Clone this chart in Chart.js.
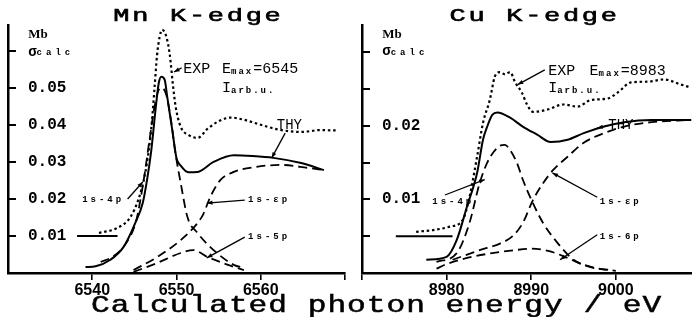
<!DOCTYPE html>
<html>
<head>
<meta charset="utf-8">
<script src="https://cdn.jsdelivr.net/npm/chart.js@4.4.1/dist/chart.umd.min.js"></script>
<style>
body{margin:0;background:#fff;width:692px;height:317px;overflow:hidden;position:relative}
.box{position:absolute;top:0;height:300px}
#xt{position:absolute;left:91px;top:294px;font:24px "Liberation Mono",monospace;letter-spacing:0.75px;white-space:nowrap;color:#000;line-height:24px;transform:scaleX(1.3);transform-origin:0 0;-webkit-text-stroke:0.5px #000}
</style>
</head>
<body>
<div class="box" style="left:0;width:350px"><canvas id="mn"></canvas></div>
<div class="box" style="left:340px;width:352px"><canvas id="cu"></canvas></div>
<div id="xt">Calculated photon energy / eV</div>
<script>
// ---- Mn K-edge (left) ----
var mnExpE = [6540.8,6543.0,6544.5,6545.5,6546.2,6546.7,6547.1,6547.4,6547.7,6548.0,6548.3,6548.8,6549.2,6549.6,6549.9,6550.5,6551.5,6552.5,6553.7,6555.0,6556.5,6558.0,6559.5,6562.0,6564.8,6567.0,6569.2];
var mnExp  = [0.0108,0.0122,0.0150,0.0200,0.0260,0.0330,0.0414,0.0503,0.0590,0.0638,0.0657,0.0638,0.0590,0.0503,0.0449,0.0395,0.0372,0.0365,0.0390,0.0410,0.0420,0.0414,0.0404,0.0388,0.0381,0.0386,0.0385];
var mnBaseE = [6538.2,6543.0];
var mnBase  = [0.0100,0.0100];
var mnThyE = [6539.2,6540.4,6542.1,6543.7,6545.1,6546.0,6546.5,6547.0,6547.6,6547.9,6548.2,6548.6,6548.9,6549.5,6550.0,6550.5,6551.4,6552.5,6554.4,6556.8,6559.0,6561.5,6564.8,6567.5];
var mnThy  = [0.0016,0.0018,0.0035,0.0070,0.0135,0.0190,0.0251,0.0330,0.0460,0.0514,0.0530,0.0522,0.0476,0.0386,0.0310,0.0290,0.0272,0.0273,0.0300,0.0318,0.0316,0.0311,0.0297,0.0278];
var mn4pE = [6541.0,6542.5,6544.0,6545.2,6546.1,6546.8,6547.4,6547.9,6548.3,6548.8,6549.3,6549.9,6550.5,6551.3,6552.5,6554.4,6556.8,6558.0];
var mn4p  = [0.0030,0.0045,0.0080,0.0140,0.0250,0.0360,0.0450,0.0495,0.0500,0.0480,0.0420,0.0320,0.0243,0.0151,0.0108,0.0062,0.0022,0.0014];
var mnEpE = [6544.9,6547.7,6550.5,6552.5,6553.2,6554.0,6555.2,6556.8,6559.2,6562.4,6565.6,6567.5];
var mnEp  = [0.0008,0.0043,0.0089,0.0135,0.0160,0.0205,0.0251,0.0273,0.0286,0.0292,0.0284,0.0278];
var mn5pE = [6544.9,6547.7,6550.5,6552.0,6553.7,6556.1,6558.0];
var mn5p  = [0.0003,0.0027,0.0054,0.0062,0.0043,0.0022,0.0008];
var mnXTicks = [6540,6550,6560,6570];
var mnXLabels = ['6540','6550','6560',''];
var mnYTicks = [0.01,0.02,0.03,0.04,0.05,0.06];
var mnYLabels = ['0.01','0.02','0.03','0.04','0.05',''];

// ---- Cu K-edge (right) ----
var cuExpE = [8976.4,8978.8,8980.4,8981.9,8982.7,8983.6,8984.3,8985.1,8985.7,8986.3,8986.9,8987.5,8988.1,8988.9,8989.5,8990.2,8991.9,8993.8,8995.5,8997.0,8999.0,9000.2,9001.8,9003.8,9005.7,9007.7,9008.9];
var cuExp  = [0.0056,0.0059,0.0063,0.0072,0.0103,0.0158,0.0204,0.0235,0.0267,0.0273,0.0270,0.0273,0.0259,0.0245,0.0229,0.0219,0.0222,0.0229,0.0226,0.0235,0.0237,0.0245,0.0259,0.0260,0.0263,0.0256,0.0252];
var cuBaseE = [8974.0,8980.7];
var cuBase  = [0.0050,0.0050];
var cuThyE = [8977.6,8980.0,8981.2,8982.4,8983.6,8984.3,8984.8,8985.4,8986.0,8987.5,8989.0,8990.7,8992.3,8994.3,8996.2,8998.6,9001.0,9004.2,9008.9];
var cuThy  = [0.0018,0.0022,0.0045,0.0090,0.0136,0.0181,0.0199,0.0215,0.0218,0.0211,0.0199,0.0188,0.0178,0.0181,0.0190,0.0199,0.0205,0.0208,0.0208];
var cu4pE = [8978.8,8981.2,8982.7,8983.9,8984.8,8985.6,8986.3,8986.9,8987.5,8988.3,8989.0,8990.2,8991.4,8993.1,8995.0,8997.0,8999.4];
var cu4p  = [0.0015,0.0027,0.0068,0.0122,0.0150,0.0165,0.0173,0.0174,0.0167,0.0150,0.0127,0.0095,0.0068,0.0041,0.0018,0.0008,0.0004];
var cuEpE = [8980.7,8983.9,8986.3,8987.8,8989.0,8990.2,8991.4,8992.6,8994.3,8996.2,8998.6,9001.0,9004.2,9008.9];
var cuEp  = [0.0018,0.0031,0.0040,0.0050,0.0068,0.0099,0.0122,0.0140,0.0158,0.0177,0.0190,0.0199,0.0205,0.0208];
var cu6pE = [8978.8,8980.0,8983.0,8986.0,8988.0,8990.0,8992.0,8994.0,8996.0,8998.0,9000.0];
var cu6p  = [0.0006,0.0012,0.0022,0.0028,0.0031,0.0033,0.0030,0.0022,0.0012,0.0006,0.0003];
var cuXTicks = [8970,8980,8990,9000];
var cuXLabels = ['','8980','8990','9000'];
var cuYTicks = [0.005,0.01,0.015,0.02,0.025,0.03];
var cuYLabels = ['','0.01','','0.02','',''];

var MONO = '"Liberation Mono", monospace';

function pts(xs, ys){
	var out = [];
	for(var i=0;i<xs.length;i++){ out.push({x: xs[i], y: ys[i]}); }
	return out;
}

function line(xs, ys, kind){
	var ds = {data: pts(xs, ys), borderColor: '#000', pointRadius: 0, fill: false, cubicInterpolationMode: 'monotone'};
	if(kind == 'dot'){ ds.borderDash = [2.5,2.8]; ds.borderWidth = 2.2; }
	else if(kind == 'dash'){ ds.borderDash = [9,5]; ds.borderWidth = 1.8; }
	else { ds.borderWidth = 2; }
	return ds;
}

function scales(xMin, xMax, xTicks, xLabels, yMax, yTicks, yLabels, yWidth){
	return {
		x: {
			type: 'linear', min: xMin, max: xMax,
			afterBuildTicks: function(s){ s.ticks = xTicks.map(function(v){ return {value: v}; }); },
			afterFit: function(s){ s.height = 27; s.paddingLeft = 0; s.paddingRight = 0; },
			ticks: {callback: function(v, i){ return xLabels[i]; }, color: '#000', font: {family: 'Liberation Sans', size: 16, weight: 'bold'}, padding: 1, maxRotation: 0, autoSkip: false},
			grid: {drawOnChartArea: false, tickLength: 7, color: '#000', lineWidth: 1.6},
			border: {color: '#000', width: 2.5}
		},
		y: {
			type: 'linear', min: 0, max: yMax,
			afterBuildTicks: function(s){ s.ticks = yTicks.map(function(v){ return {value: v}; }); },
			afterFit: function(s){ s.width = yWidth; s.paddingTop = 0; s.paddingBottom = 0; },
			ticks: {mirror: true, padding: 20, callback: function(v, i){ return yLabels[i]; }, color: '#000', font: {family: 'Liberation Mono', size: 16, weight: 'bold'}, autoSkip: false},
			grid: {drawOnChartArea: false, tickLength: -8, color: '#000', lineWidth: 2},
			border: {color: '#000', width: 2.5}
		}
	};
}

// titles, labels and leader lines, placed in data units
var notes = {
	id: 'notes',
	afterDraw: function(chart, args, o){
		var c = chart.ctx, xs = chart.scales.x, ys = chart.scales.y;
		c.save();
		c.fillStyle = '#000'; c.strokeStyle = '#000';
		c.textBaseline = 'middle';
		c.save();
		c.translate(xs.getPixelForValue(o.titleAt), 16);
		c.scale(1.5, 1);
		c.font = '18px ' + MONO; c.letterSpacing = '1.8px'; c.textAlign = 'center';
		c.lineWidth = 0.6;
		c.fillText(o.title, 0, 0);
		c.strokeText(o.title, 0, 0);
		c.restore();
		c.textAlign = 'left';
		o.texts.forEach(function(t){
			var x = xs.getPixelForValue(t.x), y = ys.getPixelForValue(t.y);
			t.parts.forEach(function(p){
				c.font = p.f; c.letterSpacing = (p.ls || 0) + 'px';
				c.fillText(p.t, x, y + (p.dy || 0));
				x += c.measureText(p.t).width;
			});
		});
		c.letterSpacing = '0px';
		c.lineWidth = 1.3;
		o.leaders.forEach(function(l){
			var x1 = xs.getPixelForValue(l[0]), y1 = ys.getPixelForValue(l[1]);
			var x2 = xs.getPixelForValue(l[2]), y2 = ys.getPixelForValue(l[3]);
			c.beginPath(); c.moveTo(x1, y1); c.lineTo(x2, y2); c.stroke();
			var a = Math.atan2(y2 - y1, x2 - x1);
			c.beginPath();
			c.moveTo(x2, y2);
			c.lineTo(x2 - 6*Math.cos(a - 0.35), y2 - 6*Math.sin(a - 0.35));
			c.lineTo(x2 - 6*Math.cos(a + 0.35), y2 - 6*Math.sin(a + 0.35));
			c.closePath(); c.fill();
		});
		c.restore();
	}
};

var small = 'bold 9px ' + MONO;
var big = '15px ' + MONO;
var lab = 'bold 9px ' + MONO;

function emax(v){ return [{t:'E', f:big}, {t:'max', f:small, dy:3, ls:2}, {t:'=' + v, f:big}]; }
var iarb = [{t:'I', f:big}, {t:'arb.u.', f:small, dy:3, ls:2}];
var sigma = [{t:'σ', f:'bold 14px ' + MONO}, {t:'calc', f:small, dy:1, ls:4}];

function makeChart(id, sets, sc, pad, note){
	var ctx = document.getElementById(id).getContext('2d');
	return new Chart(ctx, {
		type: 'line',
		data: {datasets: sets},
		options: {
			responsive: true,
			maintainAspectRatio: false,
			animation: false,
			layout: {padding: pad},
			scales: sc,
			plugins: {legend: {display: false}, tooltip: {enabled: false}, title: {display: false}, notes: note}
		},
		plugins: [notes]
	});
}

makeChart('mn', [
	line(mnExpE, mnExp, 'dot'),
	line(mnBaseE, mnBase, 'solid'),
	line(mnThyE, mnThy, 'solid'),
	line(mn4pE, mn4p, 'dash'),
	line(mnEpE, mnEp, 'dash'),
	line(mn5pE, mn5p, 'dash')
], scales(6530, 6570, mnXTicks, mnXLabels, 0.067, mnYTicks, mnYLabels, 8), {top: 25, right: 5, left: 0, bottom: 0}, {
	title: 'Mn K-edge', titleAt: 6552.6,
	texts: [
		{x: 6550.8, y: 0.0551, parts: [{t:'EXP', f:big}]},
		{x: 6555.4, y: 0.0551, parts: emax('6545')},
		{x: 6555.4, y: 0.0500, parts: iarb},
		{x: 6561.9, y: 0.0400, parts: [{t:'THY', f:'14px ' + MONO}]},
		{x: 6538.8, y: 0.0197, parts: [{t:'1s-4p', f:lab, ls:3}]},
		{x: 6558.5, y: 0.0197, parts: [{t:'1s-εp', f:lab, ls:3}]},
		{x: 6558.5, y: 0.0097, parts: [{t:'1s-5p', f:lab, ls:3}]},
		{x: 6532.4, y: 0.0643, parts: [{t:'Mb', f:'bold 13px "Liberation Serif"'}]},
		{x: 6532.4, y: 0.0597, parts: sigma}
	],
	leaders: [
		[6550.6, 0.0554, 6549.7, 0.0543],
		[6562.9, 0.0378, 6561.3, 0.0311],
		[6544.2, 0.0200, 6546.0, 0.0246],
		[6558.1, 0.0197, 6553.6, 0.0189],
		[6558.1, 0.0097, 6553.6, 0.0041]
	]
});

makeChart('cu', [
	line(cuExpE, cuExp, 'dot'),
	line(cuBaseE, cuBase, 'solid'),
	line(cuThyE, cuThy, 'solid'),
	line(cu4pE, cu4p, 'dash'),
	line(cuEpE, cuEp, 'dash'),
	line(cu6pE, cu6p, 'dash')
], scales(8970, 9009, cuXTicks, cuXLabels, 0.0337, cuYTicks, cuYLabels, 22), {top: 25, right: 0, left: 0, bottom: 0}, {
	title: 'Cu K-edge', titleAt: 8990.4,
	texts: [
		{x: 8992.0, y: 0.0275, parts: [{t:'EXP', f:big}]},
		{x: 8996.9, y: 0.0275, parts: emax('8983')},
		{x: 8992.0, y: 0.0252, parts: iarb},
		{x: 8999.1, y: 0.0201, parts: [{t:'THY', f:'14px ' + MONO}]},
		{x: 8978.3, y: 0.0097, parts: [{t:'1s-4p', f:lab, ls:3}]},
		{x: 8998.1, y: 0.0097, parts: [{t:'1s-εp', f:lab, ls:3}]},
		{x: 8998.1, y: 0.0049, parts: [{t:'1s-6p', f:lab, ls:3}]},
		{x: 8972.4, y: 0.0324, parts: [{t:'Mb', f:'bold 13px "Liberation Serif"'}]},
		{x: 8972.4, y: 0.0301, parts: sigma}
	],
	leaders: [
		[8991.6, 0.0276, 8988.4, 0.0256],
		[8999.0, 0.0200, 8997.8, 0.0197],
		[8979.8, 0.0106, 8984.5, 0.0127],
		[8997.8, 0.0103, 8992.5, 0.0136],
		[8997.8, 0.0052, 8993.4, 0.0018]
	]
});
</script>
</body>
</html>
